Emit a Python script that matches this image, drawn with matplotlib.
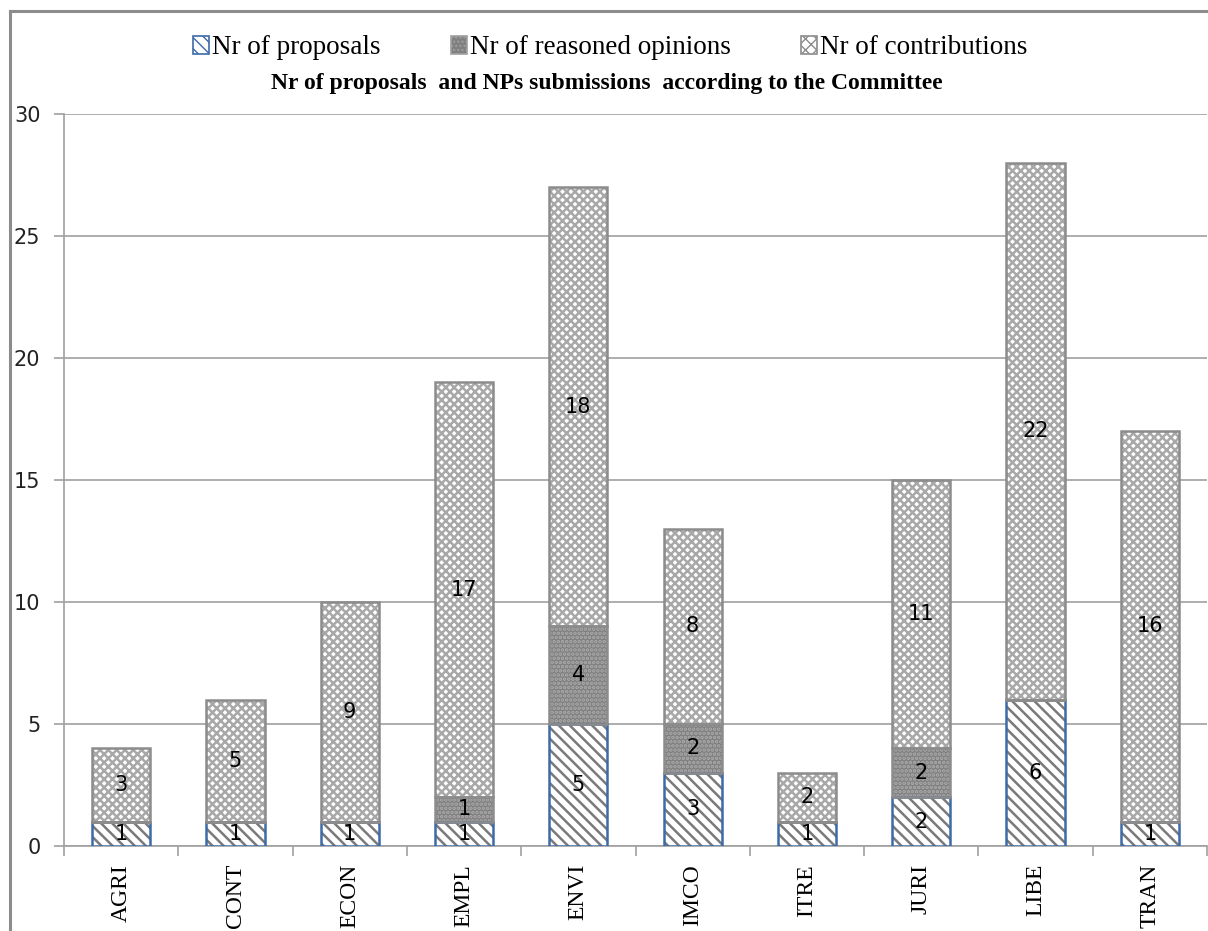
import matplotlib
matplotlib.use("Agg")
import matplotlib.pyplot as plt
import numpy as np
from matplotlib.patches import Patch
from matplotlib.lines import Line2D

categories = ["AGRI", "CONT", "ECON", "EMPL", "ENVI", "IMCO", "ITRE", "JURI", "LIBE", "TRAN"]
proposals = [1, 1, 1, 1, 5, 3, 1, 2, 6, 1]
reasoned = [0, 0, 0, 1, 4, 2, 0, 2, 0, 0]
contributions = [3, 5, 9, 17, 18, 8, 2, 11, 22, 16]
series_names = ["Nr of proposals", "Nr of reasoned opinions", "Nr of contributions"]
title = "Nr of proposals  and NPs submissions  according to the Committee"
yticks = [0, 5, 10, 15, 20, 25, 30]

plt.rcParams['hatch.linewidth'] = 1.8

W, H = 1208, 931
fig = plt.figure(figsize=(W/100, H/100), dpi=100)
ax = fig.add_axes([64/W, 1-846/H, (1207-64)/W, (846-114)/H])

x = np.arange(len(categories))
width = 0.51
prop = np.array(proposals); reas = np.array(reasoned); cont = np.array(contributions)

# proposals: white fill, dark diagonal hatch, blue border
ax.bar(x, prop, width, color="white", edgecolor="#7a7a7a", hatch="\\\\\\", linewidth=0, zorder=3)
ax.bar(x, prop, width, color="none", edgecolor="#3d6aa8", linewidth=1.8, zorder=4)
# reasoned: dark gray with dots
ax.bar(x, reas, width, bottom=prop, color="#7f7f7f", edgecolor="#ababab", hatch="....", linewidth=0, zorder=3)
ax.bar(x, reas, width, bottom=prop, color="none", edgecolor="#8c8c8c", linewidth=1.8, zorder=4)
# contributions: white with crosshatch
ax.bar(x, cont, width, bottom=prop+reas, color="white", edgecolor="#a8a8a8", hatch="xxxx", linewidth=0, zorder=3)
ax.bar(x, cont, width, bottom=prop+reas, color="none", edgecolor="#8c8c8c", linewidth=1.8, zorder=4)
plt.rcParams['hatch.linewidth'] = 1.0

lblfont = dict(family="DejaVu Sans", fontsize=15, color="black", ha="center", va="center", zorder=5)
for i in range(len(categories)):
    ax.text(x[i], prop[i]/2, str(prop[i]), **lblfont)
    if reas[i] > 0:
        ax.text(x[i], prop[i] + reas[i]/2, str(reas[i]), **lblfont)
    ax.text(x[i], prop[i] + reas[i] + cont[i]/2, str(cont[i]), **lblfont)

ax.set_xlim(-0.5, len(categories) - 0.5)
ax.set_ylim(0, 30)
ax.set_yticks(yticks)
ax.set_yticklabels([str(v) for v in yticks], fontsize=15, family="DejaVu Sans", color="#222222")
ax.yaxis.grid(True, color="#a0a0a0", linewidth=1.2, zorder=0)
ax.set_axisbelow(True)
ax.set_xticks(x)
ax.set_xticklabels(categories, rotation=90, fontsize=17, family="Liberation Serif")
ax.tick_params(axis="x", length=0, pad=13)
# category boundary ticks
ax.set_xticks(np.arange(-0.5, len(categories) - 0.4, 1.0), minor=True)
ax.tick_params(axis="x", which="minor", length=7, color="#a0a0a0", width=1.2, direction="out")
ax.tick_params(axis="y", length=7, color="#a0a0a0", width=1.2, direction="out", pad=10)
for s in ["top", "right"]:
    ax.spines[s].set_visible(False)
ax.spines["left"].set_color("#a0a0a0"); ax.spines["left"].set_linewidth(1.2)
ax.spines["bottom"].set_color("#a0a0a0"); ax.spines["bottom"].set_linewidth(1.2)

# outer border (left and top)
fig.add_artist(Line2D([10/W, 10/W], [0, 1-11/H], transform=fig.transFigure, color="#8c8c8c", linewidth=2.2))
fig.add_artist(Line2D([10/W, 1], [1-11/H, 1-11/H], transform=fig.transFigure, color="#8c8c8c", linewidth=2.2))

handles = [
    Patch(facecolor="white", edgecolor="#3d6aa8", hatch="\\\\\\", linewidth=1.2),
    Patch(facecolor="#808080", edgecolor="#a0a0a0", hatch="....", linewidth=1.2),
    Patch(facecolor="white", edgecolor="#8c8c8c", hatch="xxx", linewidth=1.2),
]
fig.legend(handles, series_names, loc="center", bbox_to_anchor=(0.505, 1-48/H), ncol=3, frameon=False,
           prop=dict(family="Liberation Serif", size=19.5), handlelength=0.6, handleheight=0.6,
           handletextpad=0.1, columnspacing=2.6)
fig.text(0.502, 1-84/H, title, ha="center", va="center", family="Liberation Serif",
         fontweight="bold", fontsize=17)

fig.savefig("out.png", dpi=100)
